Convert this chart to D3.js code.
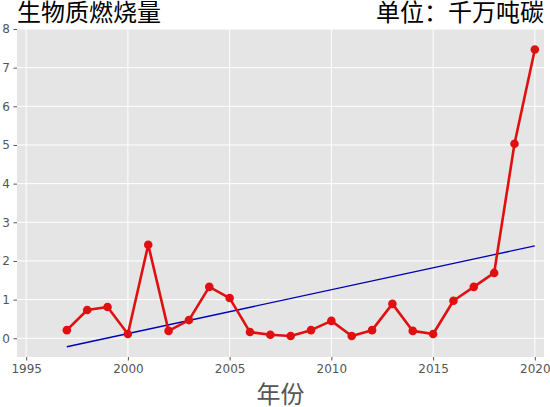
<!DOCTYPE html>
<html>
<head>
<meta charset="utf-8" />
<script src="https://cdnjs.cloudflare.com/ajax/libs/d3/7.8.5/d3.min.js"></script>
<style>
body { margin: 0; background: #fff; }
svg { display: block; }
.cjk { font-family: "Noto Sans CJK SC", sans-serif; }
</style>
</head>
<body>
<svg id="chart" width="550" height="407"></svg>
<script>
// data
var years = [1997, 1998, 1999, 2000, 2001, 2002, 2003, 2004, 2005, 2006, 2007, 2008,
             2009, 2010, 2011, 2012, 2013, 2014, 2015, 2016, 2017, 2018, 2019, 2020];
var values = [0.21, 0.73, 0.81, 0.11, 2.42, 0.19, 0.47, 1.33, 1.04, 0.16, 0.09, 0.06,
              0.21, 0.45, 0.06, 0.21, 0.89, 0.19, 0.11, 0.97, 1.33, 1.69, 5.03, 7.47];
var trendYears = [1997, 2020];
var trendValues = [-0.22, 2.39];
var xTicks = [1995, 2000, 2005, 2010, 2015, 2020];
var yTicks = [0, 1, 2, 3, 4, 5, 6, 7, 8];

var svg = d3.select("#chart");
var plotL = 17, plotR = 544, plotT = 29, plotB = 357;

var x = d3.scaleLinear().domain([1994.55, 2020.45]).range([plotL, plotR]);
var y = d3.scaleLinear().domain([-0.485, 8.0]).range([plotB, plotT]);

// panel
svg.append("rect")
    .attr("x", plotL).attr("y", plotT)
    .attr("width", plotR - plotL).attr("height", plotB - plotT)
    .attr("fill", "#e5e5e5");

// grid
svg.append("g").selectAll("line").data(xTicks).join("line")
    .attr("x1", d => x(d)).attr("x2", d => x(d))
    .attr("y1", plotT).attr("y2", plotB)
    .attr("stroke", "#fff").attr("stroke-width", 1);
svg.append("g").selectAll("line").data(yTicks).join("line")
    .attr("x1", plotL).attr("x2", plotR)
    .attr("y1", d => y(d)).attr("y2", d => y(d))
    .attr("stroke", "#fff").attr("stroke-width", 1);

// axes
var xAxis = svg.append("g")
    .attr("transform", "translate(0," + plotB + ")")
    .call(d3.axisBottom(x).tickValues(xTicks).tickFormat(d3.format("d")).tickSize(3.5).tickPadding(3.5));
var yAxis = svg.append("g")
    .attr("transform", "translate(" + plotL + ",0)")
    .call(d3.axisLeft(y).tickValues(yTicks).tickSize(3.5).tickPadding(3.5));
[xAxis, yAxis].forEach(function(a) {
    a.select(".domain").remove();
    a.attr("font-family", "DejaVu Sans, sans-serif").attr("font-size", 12);
    a.selectAll(".tick line").attr("stroke", "#555");
    a.selectAll(".tick text").attr("fill", "#555");
});

// trend line
svg.append("line")
    .attr("x1", x(trendYears[0])).attr("y1", y(trendValues[0]))
    .attr("x2", x(trendYears[1])).attr("y2", y(trendValues[1]))
    .attr("stroke", "#0000b4").attr("stroke-width", 1.3);

// data line
var pts = years.map((yr, i) => [yr, values[i]]);
svg.append("path")
    .datum(pts)
    .attr("fill", "none")
    .attr("stroke", "#e01010")
    .attr("stroke-width", 2.6)
    .attr("stroke-linejoin", "round")
    .attr("d", d3.line().x(d => x(d[0])).y(d => y(d[1])));
svg.append("g").selectAll("circle").data(pts).join("circle")
    .attr("cx", d => x(d[0])).attr("cy", d => y(d[1]))
    .attr("r", 4.3)
    .attr("fill", "#e01010");

// titles
svg.append("text").attr("class", "cjk")
    .attr("x", plotL).attr("y", 21)
    .attr("font-size", 24).attr("fill", "#000")
    .text("生物质燃烧量");
svg.append("text").attr("class", "cjk")
    .attr("x", plotR).attr("y", 21)
    .attr("text-anchor", "end")
    .attr("font-size", 24).attr("fill", "#000")
    .text("单位：千万吨碳");
svg.append("text").attr("class", "cjk")
    .attr("x", (plotL + plotR) / 2).attr("y", 403)
    .attr("text-anchor", "middle")
    .attr("font-size", 24).attr("fill", "#555")
    .text("年份");
</script>
</body>
</html>
